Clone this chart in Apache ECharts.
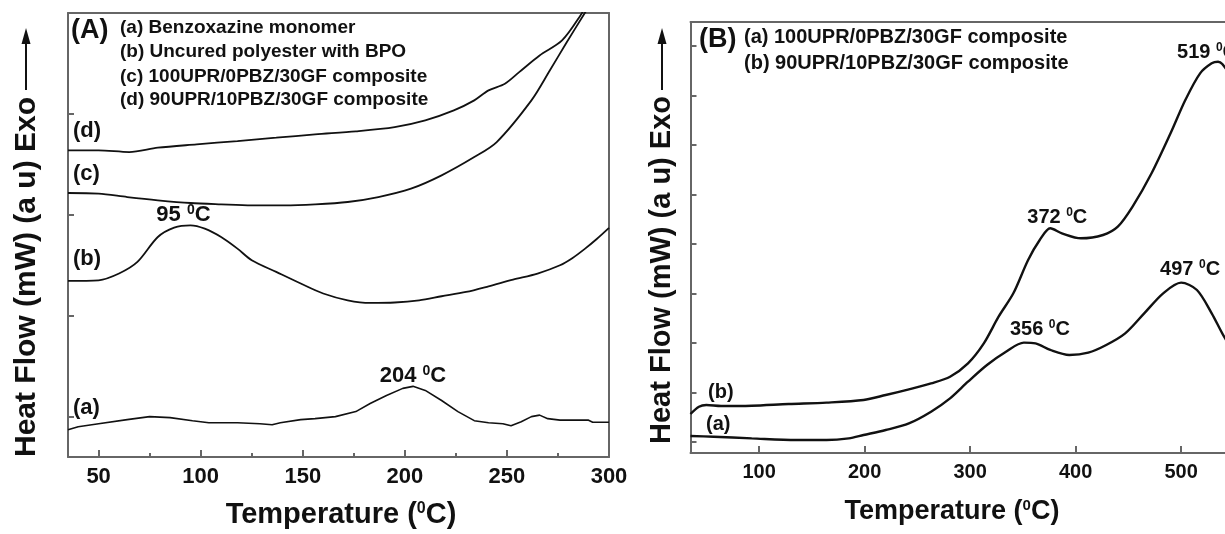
<!DOCTYPE html>
<html lang="en">
<head>
<meta charset="UTF-8">
<title>DSC curves</title>
<script src="https://cdn.jsdelivr.net/npm/echarts@6/dist/echarts.min.js"></script>
<style>
  html, body { margin: 0; padding: 0; background: #fff; }
  #chart { width: 1225px; height: 534px; }
</style>
</head>
<body>
<div id="chart"></div>
<script>
// ---- panel A : temperatures (C) and heat flow (a.u., one tick = 1) ----
var aT = [35, 40, 50, 64, 75, 85, 96, 104, 118, 129, 135, 139, 149, 156, 166, 176, 183, 191, 199, 204, 210, 218, 226, 234, 241, 248, 252, 257, 262, 266, 270, 276, 290, 292, 300];
var aV = [-0.13, -0.10, -0.07, -0.03, 0.00, -0.01, -0.04, -0.06, -0.06, -0.07, -0.08, -0.06, -0.03, -0.02, 0.00, 0.05, 0.13, 0.21, 0.28, 0.30, 0.26, 0.16, 0.05, -0.04, -0.06, -0.07, -0.09, -0.05, 0.00, 0.015, -0.02, -0.035, -0.035, -0.055, -0.055];

var bT = [35, 50, 60, 69, 79, 87, 95, 102, 110, 118, 125, 137, 149, 160, 172, 183, 195, 207, 218, 230, 241, 253, 265, 276, 282, 288, 294, 300];
var bV = [1.345, 1.351, 1.418, 1.533, 1.780, 1.873, 1.896, 1.863, 1.780, 1.665, 1.550, 1.434, 1.319, 1.220, 1.153, 1.127, 1.131, 1.153, 1.193, 1.236, 1.292, 1.358, 1.418, 1.500, 1.570, 1.660, 1.760, 1.870];

var cT = [35, 50, 64, 79, 95, 110, 125, 141, 156, 172, 187, 203, 218, 234, 245, 262, 271, 279, 288, 292];
var cV = [2.216, 2.210, 2.176, 2.144, 2.117, 2.104, 2.094, 2.094, 2.104, 2.127, 2.176, 2.259, 2.391, 2.572, 2.721, 3.134, 3.430, 3.700, 3.995, 4.120];

var dT = [35, 50, 65, 79, 98, 118, 137, 156, 176, 195, 210, 224, 234, 241, 249, 256, 266, 277, 286, 290];
var dV = [2.639, 2.639, 2.622, 2.665, 2.698, 2.731, 2.764, 2.797, 2.827, 2.869, 2.936, 3.035, 3.134, 3.233, 3.299, 3.414, 3.579, 3.728, 3.975, 4.120];

var peakAT = [204, 95];          // 204 C on curve (a), 95 C on curve (b)
var peakAV = [0.302, 1.896];
var peakAText = ['204', '95'];

// ---- panel B ----
var baT = [35, 57, 93, 135, 164, 185, 199, 220, 242, 263, 281, 298, 316, 334, 351, 362, 376, 394, 412, 429, 447, 465, 483, 500, 515, 529, 539, 550];
var baV = [0.121, 0.107, 0.074, 0.040, 0.040, 0.074, 0.141, 0.242, 0.377, 0.613, 0.882, 1.219, 1.556, 1.825, 2.007, 1.993, 1.859, 1.758, 1.805, 1.960, 2.195, 2.599, 3.004, 3.219, 3.071, 2.599, 2.195, 1.800];

var bbT = [35, 43, 50, 64, 93, 128, 164, 199, 220, 242, 263, 281, 298, 313, 327, 341, 355, 366, 376, 387, 405, 426, 440, 454, 472, 490, 504, 518, 529, 535, 539, 550];
var bbV = [0.566, 0.713, 0.747, 0.727, 0.734, 0.768, 0.795, 0.848, 0.949, 1.064, 1.185, 1.319, 1.589, 1.993, 2.532, 3.004, 3.677, 4.081, 4.317, 4.216, 4.115, 4.182, 4.349, 4.754, 5.428, 6.236, 6.909, 7.448, 7.651, 7.683, 7.636, 7.300];

var peakBT = [352, 500, 376, 535];   // first two on (a), last two on (b)
var peakBV = [2.007, 3.219, 4.317, 7.683];
var peakBText = ['356', '497', '372', '519'];

var ticksAX = [50, 100, 150, 200, 250, 300];
var minorAX = [75, 125, 175, 225, 275];
var ticksAY = [0, 1, 2, 3];
var ticksBX = [100, 200, 300, 400, 500];
var ticksBY = [0, 1, 2, 3, 4, 5, 6, 7, 8];

var FONT = '"Liberation Sans", Arial, sans-serif';
var INK = '#111';
var AXIS = '#666';

function pairs(t, v) {
    var out = [];
    for (var i = 0; i < t.length; i++) out.push([t[i], v[i]]);
    return out;
}

function peakMarks(t, v, txt, size, offs) {
    var d = [];
    for (var i = 0; i < t.length; i++) {
        d.push({
            coord: [t[i], v[i]],
            label: {formatter: '{n|' + txt[i] + ' }{s|0}{n|C}', offset: offs[i]}
        });
    }
    return {
        symbol: 'circle',
        symbolSize: 0,
        itemStyle: {color: 'rgba(0,0,0,0)'},
        silent: true,
        label: {
            show: true,
            position: 'inside',
            color: INK,
            rich: {
                n: {fontFamily: FONT, fontWeight: 'bold', fontSize: size, color: INK, lineHeight: size + 2},
                s: {fontFamily: FONT, fontWeight: 'bold', fontSize: Math.round(size * 0.62), color: INK, verticalAlign: 'top', lineHeight: size + 2}
            }
        },
        data: d
    };
}

function line(name, t, v, xi, w, smooth, marks) {
    var s = {
        name: name,
        type: 'line',
        xAxisIndex: xi,
        yAxisIndex: xi,
        data: pairs(t, v),
        showSymbol: false,
        smooth: smooth,
        lineStyle: {color: INK, width: w},
        z: 3
    };
    if (marks) s.markPoint = marks;
    return s;
}

function txt(x, y, s, size) {
    return {
        type: 'text', x: x, y: y, z: 10,
        style: {text: s, fill: INK, font: 'bold ' + size + 'px ' + FONT,
                textAlign: 'left', textVerticalAlign: 'middle', align: 'left', verticalAlign: 'middle'}
    };
}

function xName(x, y, size) {
    return {
        type: 'text', x: x, y: y, z: 10,
        style: {
            text: 'Temperature ({s|0}C)',
            fill: INK, font: 'bold ' + size + 'px ' + FONT,
            textAlign: 'center', textVerticalAlign: 'middle', align: 'center', verticalAlign: 'middle',
            rich: {s: {font: 'bold ' + Math.round(size * 0.55) + 'px ' + FONT, fill: INK, verticalAlign: 'top', lineHeight: size}}
        }
    };
}

function yName(x, y, size) {
    return {
        type: 'text', x: x, y: y, rotation: Math.PI / 2, z: 10,
        style: {text: 'Heat Flow (mW) (a u) Exo', fill: INK, font: 'bold ' + size + 'px ' + FONT,
                textAlign: 'center', textVerticalAlign: 'middle', align: 'center', verticalAlign: 'middle'}
    };
}

function arrow(x, yTip, yEnd) {
    return [
        {type: 'line', z: 10, shape: {x1: x, y1: yEnd, x2: x, y2: yTip + 12}, style: {stroke: INK, lineWidth: 2}},
        {type: 'polygon', z: 10, shape: {points: [[x, yTip], [x - 4.5, yTip + 16], [x + 4.5, yTip + 16]]}, style: {fill: INK}}
    ];
}

// value axis with ticks only where given; line optional
function xAxisCfg(grid, min, max, ticks, size, len, showLine, pos) {
    return {
        gridIndex: grid, type: 'value', min: min, max: max, position: pos || 'bottom',
        axisLine: {show: showLine, onZero: false, lineStyle: {color: AXIS, width: 2}},
        axisTick: {show: ticks.length > 0, inside: true, length: len, customValues: ticks, lineStyle: {color: AXIS, width: 2}},
        axisLabel: {show: size > 0, customValues: ticks, color: INK, fontFamily: FONT, fontWeight: 'bold', fontSize: size || 12, margin: 9},
        splitLine: {show: false}
    };
}

function yAxisCfg(grid, min, max, ticks, showLine, pos) {
    return {
        gridIndex: grid, type: 'value', min: min, max: max, position: pos || 'left',
        axisLine: {show: showLine, onZero: false, lineStyle: {color: AXIS, width: 2}},
        axisTick: {show: ticks.length > 0, inside: true, length: 6, customValues: ticks, lineStyle: {color: AXIS, width: 2}},
        axisLabel: {show: false},
        splitLine: {show: false}
    };
}

var chart = echarts.init(document.getElementById('chart'));

var graphics = [
    txt(71, 31, '(A)', 27),
    txt(120, 28, '(a) Benzoxazine monomer', 19),
    txt(120, 52, '(b) Uncured polyester with BPO', 19),
    txt(120, 77, '(c) 100UPR/0PBZ/30GF composite', 19),
    txt(120, 100, '(d) 90UPR/10PBZ/30GF composite', 19),
    txt(73, 131, '(d)', 22),
    txt(73, 174, '(c)', 22),
    txt(73, 259, '(b)', 22),
    txt(73, 408, '(a)', 22),
    xName(341, 515, 29),
    yName(27, 277, 30),

    txt(699, 40, '(B)', 27),
    txt(744, 37, '(a) 100UPR/0PBZ/30GF composite', 20),
    txt(744, 63, '(b) 90UPR/10PBZ/30GF composite', 20),
    txt(708, 392, '(b)', 20),
    txt(706, 424, '(a)', 20),
    xName(952, 512, 27),
    yName(662, 270, 29)
].concat(arrow(26, 28, 90), arrow(662, 28, 90));

// panel B runs past the right edge of the picture
var bMax = 541.6;

chart.setOption({
    animation: false,
    backgroundColor: '#fff',
    grid: [
        {left: 68, right: 616, top: 13, bottom: 77},
        {left: 690.5, right: 0, top: 22, bottom: 81},
        {left: 68, right: 616, top: 13, bottom: 77}
    ],
    xAxis: [
        xAxisCfg(0, 35, 300, ticksAX, 22, 7, true),
        xAxisCfg(1, 35, bMax, ticksBX, 20, 7, true),
        xAxisCfg(2, 35, 300, minorAX, 0, 4, false),
        xAxisCfg(0, 35, 300, [], 0, 0, true, 'top'),
        xAxisCfg(1, 35, bMax, [], 0, 0, true, 'top')
    ],
    yAxis: [
        yAxisCfg(0, -0.4, 4.0, ticksAY, true),
        yAxisCfg(1, -0.222, 8.485, ticksBY, true),
        yAxisCfg(2, -0.4, 4.0, [], false),
        yAxisCfg(0, -0.4, 4.0, [], true, 'right')
    ],
    series: [
        line('(a)', aT, aV, 0, 1.6, false,
             peakMarks(peakAT.slice(0, 1), peakAV.slice(0, 1), peakAText.slice(0, 1), 22, [[0, -10]])),
        line('(b)', bT, bV, 0, 1.8, 0.3,
             peakMarks(peakAT.slice(1), peakAV.slice(1), peakAText.slice(1), 22, [[-7, -10]])),
        line('(c)', cT, cV, 0, 1.8, 0.3),
        line('(d)', dT, dV, 0, 1.8, 0.3),
        line('B(a)', baT, baV, 1, 2.4, 0.3,
             peakMarks(peakBT.slice(0, 2), peakBV.slice(0, 2), peakBText.slice(0, 2), 20, [[15, -13], [9, -13]])),
        line('B(b)', bbT, bbV, 1, 2.4, 0.3,
             peakMarks(peakBT.slice(2), peakBV.slice(2), peakBText.slice(2), 20, [[7, -11], [-11, -9]]))
    ],
    graphic: graphics
});
</script>
</body>
</html>
